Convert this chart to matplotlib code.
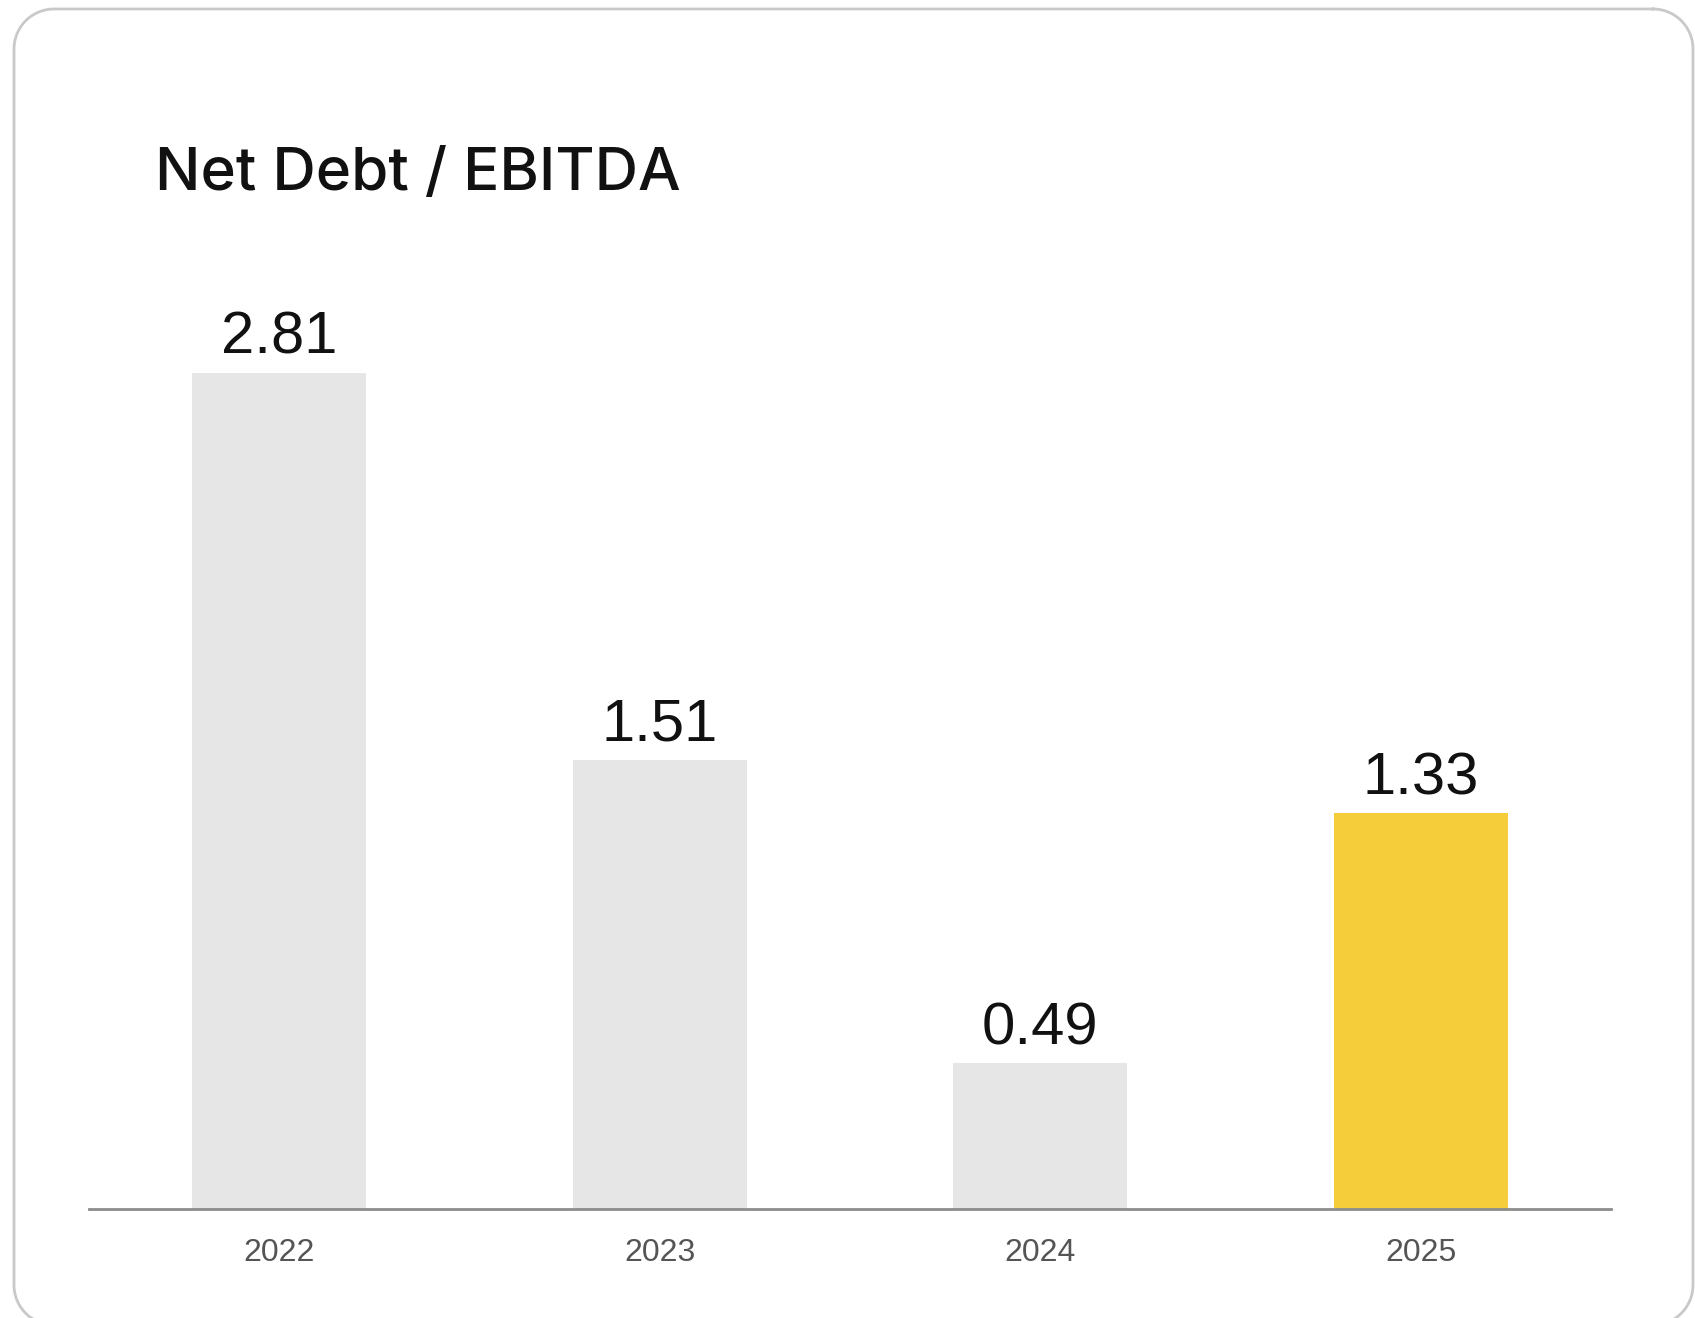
import numpy as np
import matplotlib.pyplot as plt
from matplotlib.lines import Line2D
from matplotlib.transforms import IdentityTransform

# Datos
anios = ["2022", "2023", "2024", "2025"]
valores = [2.81, 1.51, 0.49, 1.33]
colores = ["#e6e6e6", "#e6e6e6", "#e6e6e6", "#f5cd3a"]
titulo = "Net Debt / EBITDA"

plt.rcParams['font.family'] = ['Liberation Sans', 'DejaVu Sans']

W, H = 1695, 1318
fig = plt.figure(figsize=(W / 100, H / 100), dpi=100)


def marco_redondeado(x0, y0, x1, y1, r, n=30):
    """Puntos de un rectangulo con esquinas redondeadas (pixeles, origen arriba)."""
    xs, ys = [], []
    esquinas = [(x1 - r, y0 + r, -90, 0), (x1 - r, y1 - r, 0, 90),
                (x0 + r, y1 - r, 90, 180), (x0 + r, y0 + r, 180, 270)]
    for cx, cy, a0, a1 in esquinas:
        t = np.radians(np.linspace(a0, a1, n))
        xs.extend(cx + r * np.cos(t))
        ys.extend(cy + r * np.sin(t))
    xs.append(xs[0])
    ys.append(ys[0])
    return np.array(xs), H - np.array(ys)


mx, my = marco_redondeado(14, 9, 1693, 1325, 40)
fig.add_artist(Line2D(mx, my, transform=IdentityTransform(), color="#c9c9c9",
                      linewidth=2.0, zorder=-1))

ax = fig.add_axes([89 / W, (H - 1209) / H, (1611 - 89) / W, 3.2 * 297.5 / H])
ax.set_facecolor("none")
x = range(len(anios))
barras = ax.bar(x, valores, width=0.457, color=colores, zorder=2)

for xi, v in zip(x, valores):
    ax.annotate(f"{v:.2f}", (xi, v), xytext=(0, 13.7), textcoords="offset points",
                ha="center", va="baseline", fontsize=43, color="#111111")

ax.set_xlim(-0.5, 3.5)
ax.set_ylim(0, 3.2)
ax.set_xticks(list(x))
ax.set_xticklabels(anios, fontsize=23, color="#555555")
ax.tick_params(axis="x", length=0, pad=21)
ax.set_yticks([])
for lado in ["top", "right", "left"]:
    ax.spines[lado].set_visible(False)
ax.spines["bottom"].set_color("#8c8c8c")
ax.spines["bottom"].set_linewidth(2)
ax.spines["bottom"].set_zorder(3)

fig.text(155 / W, 1 - 190 / H, titulo, fontsize=43.3, color="#111111",
         ha="left", va="baseline", family=["Inter", "Liberation Sans"],
         fontweight="medium")

fig.savefig("out.png", dpi=100)
